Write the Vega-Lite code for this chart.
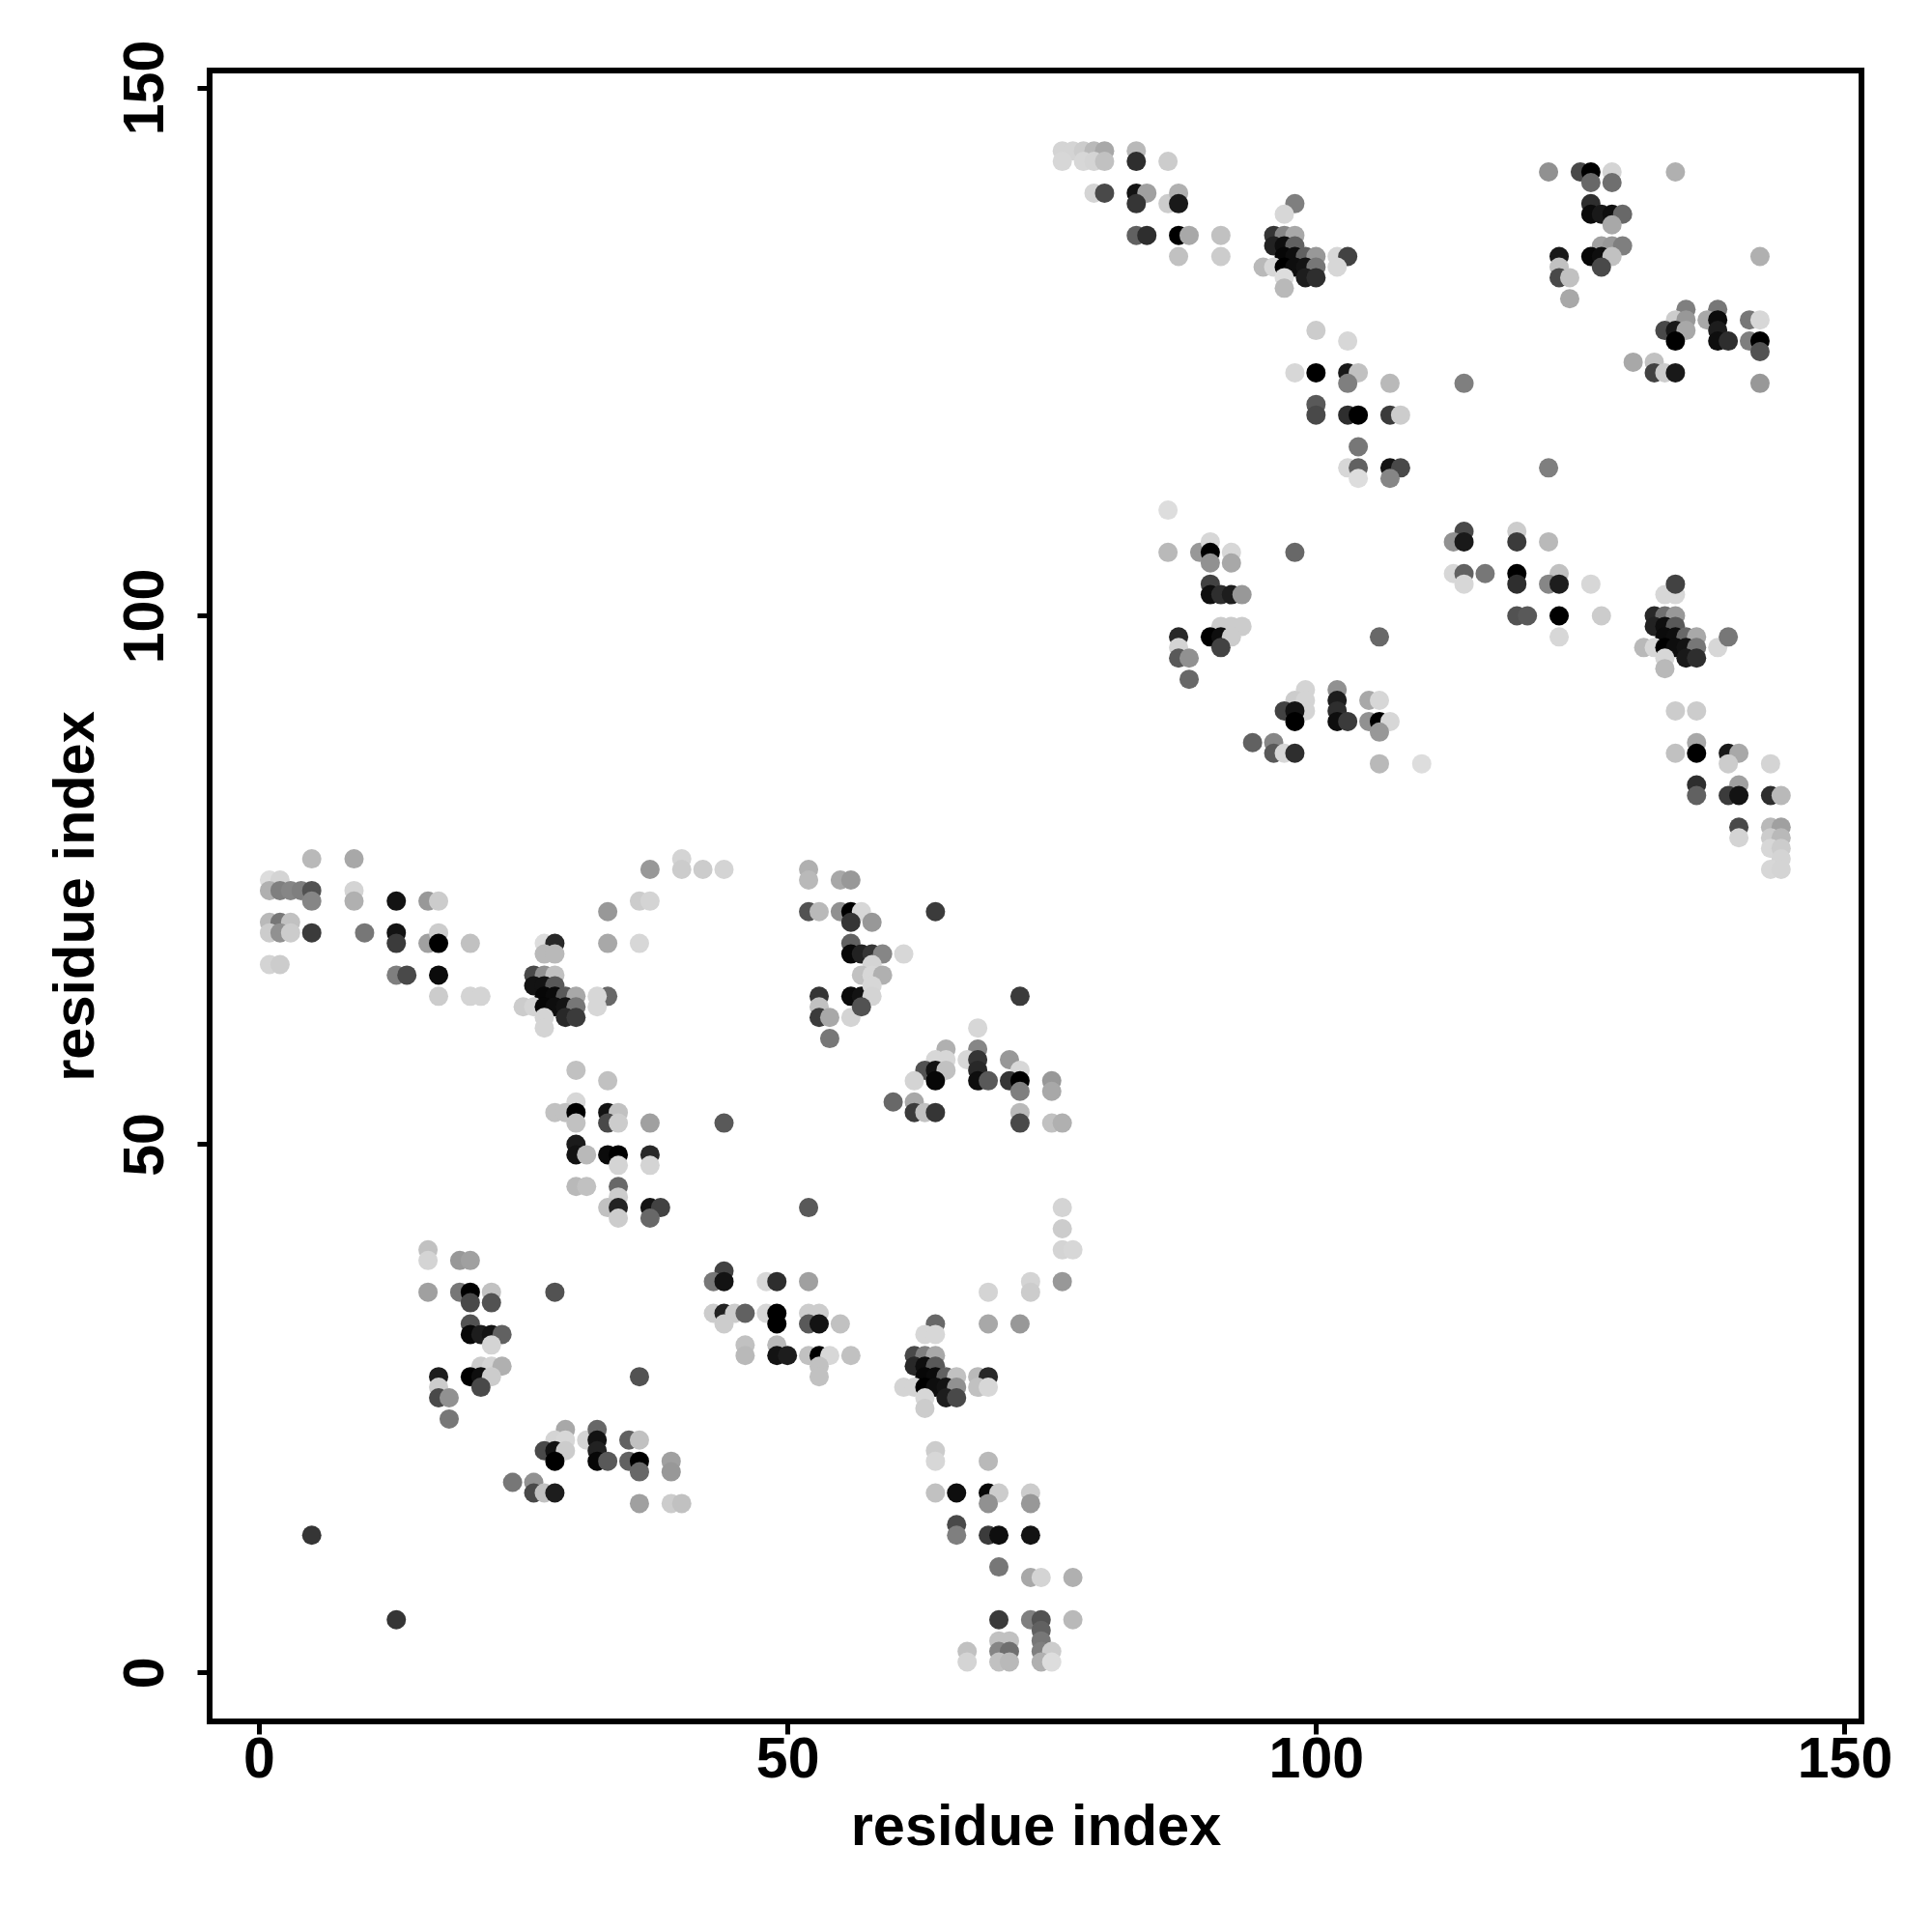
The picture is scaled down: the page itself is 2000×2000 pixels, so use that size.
{"$schema":"https://vega.github.io/schema/vega-lite/v6.json","width":1710,"height":1709,"padding":{"left":217,"top":73,"right":73,"bottom":218},"autosize":{"type":"none"},"background":"white","config":{"view":{"stroke":"black","strokeWidth":6,"fill":"white"}},
"data":{"values":[
{"i":5,"j":77,"s":25},{"i":9,"j":77,"s":31},{"i":37,"j":76,"s":37},{"i":1,"j":75,"s":12},{"i":2,"j":75,"s":15},{"i":1,"j":74,"s":28},{"i":2,"j":74,"s":47},{"i":3,"j":74,"s":44},{"i":4,"j":74,"s":47},{"i":5,"j":74,"s":65},{"i":5,"j":73,"s":44},{"i":9,"j":74,"s":15},{"i":9,"j":73,"s":28},{"i":13,"j":73,"s":94},{"i":16,"j":73,"s":37},{"i":17,"j":73,"s":18},{"i":36,"j":73,"s":18},{"i":37,"j":73,"s":15},{"i":33,"j":72,"s":37},{"i":1,"j":71,"s":25},{"i":2,"j":71,"s":50},{"i":3,"j":71,"s":22},{"i":1,"j":70,"s":18},{"i":2,"j":70,"s":40},{"i":3,"j":70,"s":18},{"i":5,"j":70,"s":75},{"i":10,"j":70,"s":50},{"i":13,"j":70,"s":94},{"i":13,"j":69,"s":75},{"i":16,"j":69,"s":34},{"i":17,"j":70,"s":18},{"i":17,"j":69,"s":100},{"i":20,"j":69,"s":22},{"i":27,"j":69,"s":12},{"i":28,"j":69,"s":84},{"i":33,"j":69,"s":31},{"i":36,"j":69,"s":14},{"i":27,"j":68,"s":25},{"i":28,"j":68,"s":25},{"i":1,"j":67,"s":15},{"i":2,"j":67,"s":18},{"i":13,"j":66,"s":47},{"i":14,"j":66,"s":69},{"i":17,"j":66,"s":97},{"i":26,"j":66,"s":69},{"i":27,"j":66,"s":40},{"i":28,"j":66,"s":22},{"i":17,"j":64,"s":18},{"i":20,"j":64,"s":15},{"i":21,"j":64,"s":15},{"i":33,"j":64,"s":56},{"i":32,"j":64,"s":14},{"i":32,"j":63,"s":14},{"i":26,"j":65,"s":94},{"i":27,"j":65,"s":94},{"i":28,"j":65,"s":62},{"i":27,"j":64,"s":98},{"i":28,"j":64,"s":97},{"i":29,"j":64,"s":62},{"i":30,"j":64,"s":31},{"i":25,"j":63,"s":18},{"i":26,"j":63,"s":15},{"i":27,"j":63,"s":98},{"i":28,"j":63,"s":96},{"i":29,"j":63,"s":94},{"i":30,"j":63,"s":50},{"i":29,"j":62,"s":84},{"i":30,"j":62,"s":75},{"i":27,"j":62,"s":15},{"i":27,"j":61,"s":15},
{"i":30,"j":57,"s":22},{"i":33,"j":56,"s":22},{"i":30,"j":54,"s":14},{"i":28,"j":53,"s":22},{"i":29,"j":53,"s":22},{"i":30,"j":53,"s":100},{"i":33,"j":53,"s":94},{"i":34,"j":53,"s":22},{"i":30,"j":52,"s":22},{"i":33,"j":52,"s":69},{"i":34,"j":52,"s":18},{"i":37,"j":52,"s":34},{"i":30,"j":50,"s":90},{"i":30,"j":49,"s":94},{"i":31,"j":49,"s":25},{"i":33,"j":49,"s":97},{"i":34,"j":49,"s":100},{"i":37,"j":49,"s":84},{"i":34,"j":48,"s":15},{"i":37,"j":48,"s":15},{"i":30,"j":46,"s":25},{"i":31,"j":46,"s":22},{"i":34,"j":46,"s":56},{"i":34,"j":45,"s":18},{"i":33,"j":44,"s":22},{"i":34,"j":44,"s":87},{"i":37,"j":44,"s":94},{"i":38,"j":44,"s":72},{"i":34,"j":43,"s":18},{"i":37,"j":43,"s":56},
{"i":40,"j":77,"s":15},{"i":40,"j":76,"s":18},{"i":42,"j":76,"s":18},{"i":44,"j":76,"s":15},{"i":52,"j":76,"s":28},{"i":52,"j":75,"s":25},{"i":55,"j":75,"s":31},{"i":56,"j":75,"s":37},{"i":52,"j":72,"s":65},{"i":53,"j":72,"s":25},{"i":55,"j":72,"s":40},{"i":56,"j":72,"s":100},{"i":57,"j":72,"s":14},{"i":56,"j":71,"s":78},{"i":58,"j":71,"s":37},{"i":64,"j":72,"s":75},{"i":56,"j":69,"s":59},{"i":56,"j":68,"s":98},{"i":57,"j":68,"s":87},{"i":58,"j":68,"s":78},{"i":59,"j":68,"s":44},{"i":61,"j":68,"s":14},{"i":58,"j":67,"s":15},{"i":57,"j":66,"s":22},{"i":58,"j":66,"s":14},{"i":59,"j":66,"s":28},{"i":56,"j":64,"s":97},{"i":57,"j":64,"s":94},{"i":58,"j":65,"s":14},{"i":58,"j":64,"s":15},{"i":53,"j":64,"s":78},{"i":53,"j":63,"s":22},{"i":53,"j":62,"s":75},{"i":54,"j":62,"s":31},{"i":56,"j":62,"s":15},{"i":57,"j":63,"s":65},{"i":54,"j":60,"s":50},{"i":68,"j":61,"s":14},{"i":65,"j":59,"s":28},{"i":68,"j":59,"s":44},{"i":64,"j":58,"s":14},{"i":65,"j":58,"s":14},{"i":67,"j":58,"s":14},{"i":68,"j":58,"s":78},{"i":71,"j":58,"s":37},{"i":63,"j":57,"s":65},{"i":64,"j":57,"s":94},{"i":65,"j":57,"s":22},{"i":68,"j":57,"s":84},{"i":72,"j":57,"s":14},{"i":62,"j":56,"s":15},{"i":64,"j":56,"s":98},{"i":68,"j":56,"s":96},{"i":69,"j":56,"s":62},{"i":71,"j":56,"s":78},{"i":72,"j":56,"s":100},{"i":75,"j":56,"s":37},{"i":72,"j":55,"s":47},{"i":75,"j":55,"s":31},{"i":60,"j":54,"s":56},{"i":62,"j":54,"s":31},{"i":62,"j":53,"s":75},{"i":63,"j":53,"s":22},{"i":64,"j":53,"s":78},{"i":72,"j":53,"s":25},{"i":72,"j":52,"s":69},{"i":75,"j":52,"s":22},{"i":76,"j":52,"s":28},{"i":44,"j":52,"s":62},{"i":52,"j":44,"s":62},{"i":76,"j":44,"s":15},{"i":76,"j":42,"s":18},{"i":76,"j":40,"s":15},{"i":77,"j":40,"s":14},{"i":72,"j":64,"s":75},
{"i":16,"j":40,"s":22},{"i":16,"j":39,"s":15},{"i":19,"j":39,"s":37},{"i":20,"j":39,"s":34},{"i":16,"j":36,"s":34},{"i":19,"j":36,"s":50},{"i":20,"j":36,"s":100},{"i":22,"j":36,"s":22},{"i":28,"j":36,"s":65},{"i":20,"j":35,"s":69},{"i":22,"j":35,"s":65},{"i":20,"j":33,"s":65},{"i":20,"j":32,"s":98},{"i":21,"j":32,"s":89},{"i":22,"j":32,"s":94},{"i":23,"j":32,"s":59},{"i":22,"j":31,"s":15},{"i":21,"j":29,"s":18},{"i":22,"j":29,"s":15},{"i":23,"j":29,"s":28},{"i":17,"j":28,"s":89},{"i":20,"j":28,"s":100},{"i":21,"j":28,"s":96},{"i":22,"j":28,"s":18},{"i":36,"j":28,"s":65},{"i":17,"j":27,"s":18},{"i":21,"j":27,"s":69},{"i":17,"j":26,"s":69},{"i":18,"j":26,"s":40},{"i":18,"j":24,"s":50},{"i":29,"j":23,"s":31},{"i":28,"j":22,"s":15},{"i":29,"j":22,"s":14},{"i":27,"j":21,"s":69},{"i":28,"j":21,"s":94},{"i":29,"j":21,"s":18},{"i":28,"j":20,"s":100},{"i":31,"j":22,"s":15},{"i":32,"j":23,"s":56},{"i":32,"j":22,"s":94},{"i":32,"j":21,"s":87},{"i":32,"j":20,"s":98},{"i":33,"j":20,"s":62},{"i":35,"j":22,"s":59},{"i":36,"j":22,"s":22},{"i":35,"j":20,"s":59},{"i":36,"j":20,"s":100},{"i":36,"j":19,"s":56},{"i":39,"j":20,"s":34},{"i":39,"j":19,"s":37},{"i":24,"j":18,"s":50},{"i":26,"j":18,"s":40},{"i":26,"j":17,"s":69},{"i":27,"j":17,"s":22},{"i":28,"j":17,"s":89},{"i":36,"j":16,"s":34},{"i":39,"j":16,"s":18},{"i":40,"j":16,"s":22},{"i":5,"j":13,"s":78},{"i":13,"j":5,"s":78},
{"i":44,"j":38,"s":72},{"i":43,"j":37,"s":50},{"i":44,"j":37,"s":94},{"i":48,"j":37,"s":14},{"i":49,"j":37,"s":81},{"i":52,"j":37,"s":34},{"i":76,"j":37,"s":37},{"i":73,"j":37,"s":15},{"i":73,"j":36,"s":18},{"i":69,"j":36,"s":15},{"i":43,"j":34,"s":18},{"i":44,"j":34,"s":87},{"i":45,"j":34,"s":18},{"i":46,"j":34,"s":59},{"i":48,"j":34,"s":14},{"i":49,"j":34,"s":100},{"i":52,"j":34,"s":18},{"i":53,"j":34,"s":18},{"i":44,"j":33,"s":18},{"i":49,"j":33,"s":100},{"i":52,"j":33,"s":62},{"i":53,"j":33,"s":94},{"i":55,"j":33,"s":22},{"i":64,"j":33,"s":56},{"i":69,"j":33,"s":31},{"i":72,"j":33,"s":37},{"i":63,"j":32,"s":14},{"i":64,"j":32,"s":14},{"i":46,"j":31,"s":22},{"i":49,"j":31,"s":25},{"i":46,"j":30,"s":25},{"i":49,"j":30,"s":94},{"i":50,"j":30,"s":89},{"i":52,"j":30,"s":22},{"i":53,"j":30,"s":100},{"i":54,"j":30,"s":14},{"i":56,"j":30,"s":22},{"i":53,"j":29,"s":22},{"i":53,"j":28,"s":22},{"i":62,"j":30,"s":69},{"i":63,"j":30,"s":47},{"i":64,"j":30,"s":31},{"i":62,"j":29,"s":84},{"i":63,"j":29,"s":96},{"i":64,"j":29,"s":62},{"i":63,"j":28,"s":98},{"i":64,"j":28,"s":97},{"i":65,"j":28,"s":59},{"i":66,"j":28,"s":22},{"i":61,"j":27,"s":15},{"i":62,"j":27,"s":15},{"i":63,"j":27,"s":100},{"i":64,"j":27,"s":96},{"i":65,"j":27,"s":94},{"i":66,"j":27,"s":40},{"i":65,"j":26,"s":89},{"i":66,"j":26,"s":69},{"i":63,"j":26,"s":14},{"i":63,"j":25,"s":18},{"i":68,"j":28,"s":25},{"i":69,"j":28,"s":84},{"i":68,"j":27,"s":22},{"i":69,"j":27,"s":14},{"i":64,"j":21,"s":18},{"i":64,"j":20,"s":14},{"i":69,"j":20,"s":25},{"i":64,"j":17,"s":22},{"i":66,"j":17,"s":96},{"i":69,"j":17,"s":98},{"i":70,"j":17,"s":18},{"i":73,"j":17,"s":18},{"i":69,"j":16,"s":40},{"i":73,"j":16,"s":37},{"i":66,"j":14,"s":69},{"i":66,"j":13,"s":47},{"i":69,"j":13,"s":75},{"i":70,"j":13,"s":96},{"i":73,"j":13,"s":94},{"i":70,"j":10,"s":50},{"i":73,"j":9,"s":31},{"i":74,"j":9,"s":15},{"i":77,"j":9,"s":28},{"i":70,"j":5,"s":75},{"i":73,"j":5,"s":47},{"i":74,"j":5,"s":65},{"i":77,"j":5,"s":25},{"i":74,"j":4,"s":59},{"i":70,"j":3,"s":22},{"i":71,"j":3,"s":22},{"i":74,"j":3,"s":50},{"i":67,"j":2,"s":22},{"i":70,"j":2,"s":44},{"i":71,"j":2,"s":53},{"i":74,"j":2,"s":47},{"i":75,"j":2,"s":18},{"i":67,"j":1,"s":15},{"i":70,"j":1,"s":22},{"i":71,"j":1,"s":25},{"i":74,"j":1,"s":28},{"i":75,"j":1,"s":12},
{"i":76,"j":144,"s":15},{"i":77,"j":144,"s":15},{"i":78,"j":144,"s":18},{"i":79,"j":144,"s":25},{"i":80,"j":144,"s":31},{"i":76,"j":143,"s":14},{"i":78,"j":143,"s":14},{"i":79,"j":143,"s":15},{"i":80,"j":143,"s":22},{"i":83,"j":144,"s":25},{"i":83,"j":143,"s":81},{"i":86,"j":143,"s":18},{"i":79,"j":140,"s":15},{"i":80,"j":140,"s":69},{"i":83,"j":140,"s":94},{"i":84,"j":140,"s":34},{"i":83,"j":139,"s":78},{"i":86,"j":139,"s":18},{"i":87,"j":140,"s":28},{"i":87,"j":139,"s":91},{"i":83,"j":136,"s":59},{"i":84,"j":136,"s":81},{"i":87,"j":136,"s":100},{"i":88,"j":136,"s":31},{"i":91,"j":136,"s":22},{"i":87,"j":134,"s":22},{"i":91,"j":134,"s":18},{"i":98,"j":139,"s":47},{"i":97,"j":138,"s":14},{"i":96,"j":136,"s":78},{"i":97,"j":136,"s":44},{"i":98,"j":136,"s":31},{"i":96,"j":135,"s":87},{"i":97,"j":135,"s":96},{"i":98,"j":135,"s":59},{"i":97,"j":134,"s":98},{"i":98,"j":134,"s":96},{"i":99,"j":134,"s":59},{"i":100,"j":134,"s":37},{"i":95,"j":133,"s":25},{"i":96,"j":133,"s":14},{"i":97,"j":133,"s":100},{"i":98,"j":133,"s":96},{"i":99,"j":133,"s":94},{"i":100,"j":133,"s":50},{"i":99,"j":132,"s":89},{"i":100,"j":132,"s":81},{"i":97,"j":132,"s":12},{"i":97,"j":131,"s":25},{"i":102,"j":134,"s":14},{"i":103,"j":134,"s":72},{"i":102,"j":133,"s":14},{"i":100,"j":127,"s":18},{"i":103,"j":126,"s":14},{"i":98,"j":123,"s":14},{"i":100,"j":123,"s":100},{"i":103,"j":123,"s":91},{"i":104,"j":123,"s":22},{"i":103,"j":122,"s":47},{"i":107,"j":122,"s":25},{"i":100,"j":120,"s":62},{"i":100,"j":119,"s":69},{"i":103,"j":119,"s":81},{"i":104,"j":119,"s":100},{"i":107,"j":119,"s":75},{"i":108,"j":119,"s":18},{"i":104,"j":116,"s":50},{"i":103,"j":114,"s":14},{"i":104,"j":114,"s":59},{"i":107,"j":114,"s":94},{"i":108,"j":114,"s":69},{"i":104,"j":113,"s":12},{"i":107,"j":113,"s":44},{"i":86,"j":110,"s":12},
{"i":122,"j":142,"s":40},{"i":125,"j":142,"s":69},{"i":126,"j":142,"s":100},{"i":128,"j":142,"s":15},{"i":134,"j":142,"s":28},{"i":126,"j":141,"s":56},{"i":128,"j":141,"s":53},{"i":126,"j":139,"s":81},{"i":126,"j":138,"s":97},{"i":127,"j":138,"s":91},{"i":128,"j":138,"s":96},{"i":129,"j":138,"s":56},{"i":128,"j":137,"s":31},{"i":127,"j":135,"s":34},{"i":128,"j":135,"s":37},{"i":129,"j":135,"s":47},{"i":123,"j":134,"s":91},{"i":126,"j":134,"s":98},{"i":127,"j":134,"s":96},{"i":128,"j":134,"s":22},{"i":123,"j":133,"s":22},{"i":127,"j":133,"s":69},{"i":123,"j":132,"s":69},{"i":124,"j":132,"s":22},{"i":124,"j":130,"s":31},{"i":142,"j":134,"s":28},{"i":135,"j":129,"s":47},{"i":138,"j":129,"s":50},{"i":134,"j":128,"s":18},{"i":135,"j":128,"s":37},{"i":137,"j":128,"s":31},{"i":138,"j":128,"s":97},{"i":141,"j":128,"s":50},{"i":142,"j":128,"s":14},{"i":133,"j":127,"s":69},{"i":134,"j":127,"s":91},{"i":135,"j":127,"s":31},{"i":138,"j":127,"s":89},{"i":134,"j":126,"s":100},{"i":138,"j":126,"s":96},{"i":139,"j":126,"s":81},{"i":141,"j":126,"s":47},{"i":142,"j":126,"s":100},{"i":142,"j":125,"s":65},{"i":130,"j":124,"s":31},{"i":132,"j":124,"s":22},{"i":132,"j":123,"s":72},{"i":133,"j":123,"s":18},{"i":134,"j":123,"s":91},{"i":114,"j":122,"s":47},{"i":142,"j":122,"s":37},{"i":122,"j":114,"s":47},
{"i":86,"j":106,"s":25},{"i":89,"j":106,"s":37},{"i":90,"j":107,"s":14},{"i":90,"j":106,"s":100},{"i":90,"j":105,"s":40},{"i":92,"j":106,"s":14},{"i":92,"j":105,"s":31},{"i":98,"j":106,"s":56},{"i":90,"j":103,"s":72},{"i":90,"j":102,"s":96},{"i":91,"j":102,"s":81},{"i":92,"j":102,"s":89},{"i":93,"j":102,"s":37},{"i":91,"j":99,"s":18},{"i":92,"j":99,"s":18},{"i":93,"j":99,"s":18},{"i":87,"j":98,"s":84},{"i":90,"j":98,"s":100},{"i":91,"j":98,"s":96},{"i":92,"j":98,"s":18},{"i":87,"j":97,"s":15},{"i":91,"j":97,"s":72},{"i":87,"j":96,"s":62},{"i":88,"j":96,"s":40},{"i":88,"j":94,"s":56},{"i":106,"j":98,"s":56},{"i":99,"j":93,"s":15},{"i":98,"j":92,"s":18},{"i":99,"j":92,"s":15},{"i":102,"j":93,"s":40},{"i":102,"j":92,"s":89},{"i":105,"j":92,"s":31},{"i":106,"j":92,"s":14},{"i":99,"j":91,"s":15},{"i":97,"j":91,"s":72},{"i":98,"j":91,"s":94},{"i":102,"j":91,"s":81},{"i":98,"j":90,"s":100},{"i":102,"j":90,"s":96},{"i":103,"j":90,"s":75},{"i":105,"j":90,"s":40},{"i":106,"j":90,"s":100},{"i":107,"j":90,"s":14},{"i":106,"j":89,"s":37},{"i":94,"j":88,"s":59},{"i":96,"j":88,"s":44},{"i":96,"j":87,"s":62},{"i":97,"j":87,"s":14},{"i":98,"j":87,"s":81},{"i":106,"j":86,"s":25},{"i":110,"j":86,"s":12},
{"i":114,"j":108,"s":69},{"i":113,"j":107,"s":40},{"i":114,"j":107,"s":91},{"i":119,"j":108,"s":18},{"i":119,"j":107,"s":75},{"i":122,"j":107,"s":25},{"i":113,"j":104,"s":14},{"i":114,"j":104,"s":59},{"i":116,"j":104,"s":50},{"i":119,"j":104,"s":100},{"i":123,"j":104,"s":22},{"i":114,"j":103,"s":14},{"i":119,"j":103,"s":81},{"i":122,"j":103,"s":44},{"i":123,"j":103,"s":89},{"i":126,"j":103,"s":14},{"i":133,"j":102,"s":14},{"i":134,"j":102,"s":14},{"i":134,"j":103,"s":72},{"i":119,"j":100,"s":65},{"i":120,"j":100,"s":62},{"i":123,"j":100,"s":100},{"i":127,"j":100,"s":18},{"i":123,"j":98,"s":14},{"i":132,"j":100,"s":84},{"i":133,"j":100,"s":53},{"i":134,"j":100,"s":37},{"i":132,"j":99,"s":87},{"i":133,"j":99,"s":96},{"i":134,"j":99,"s":62},{"i":133,"j":98,"s":97},{"i":134,"j":98,"s":96},{"i":135,"j":98,"s":56},{"i":136,"j":98,"s":31},{"i":131,"j":97,"s":25},{"i":132,"j":97,"s":14},{"i":133,"j":97,"s":100},{"i":134,"j":97,"s":96},{"i":135,"j":97,"s":94},{"i":136,"j":97,"s":50},{"i":135,"j":96,"s":91},{"i":136,"j":96,"s":81},{"i":133,"j":96,"s":14},{"i":133,"j":95,"s":25},{"i":138,"j":97,"s":14},{"i":139,"j":98,"s":50},{"i":134,"j":91,"s":18},{"i":136,"j":91,"s":18},{"i":136,"j":88,"s":31},{"i":134,"j":87,"s":22},{"i":136,"j":87,"s":100},{"i":139,"j":87,"s":91},{"i":140,"j":87,"s":31},{"i":139,"j":86,"s":18},{"i":143,"j":86,"s":15},{"i":136,"j":84,"s":81},{"i":136,"j":83,"s":59},{"i":140,"j":84,"s":34},{"i":139,"j":83,"s":75},{"i":140,"j":83,"s":94},{"i":143,"j":83,"s":81},{"i":144,"j":83,"s":25},{"i":140,"j":80,"s":69},{"i":143,"j":80,"s":25},{"i":144,"j":80,"s":34},{"i":140,"j":79,"s":15},{"i":143,"j":79,"s":18},{"i":144,"j":79,"s":25},{"i":143,"j":78,"s":14},{"i":144,"j":78,"s":18},{"i":144,"j":77,"s":15},{"i":143,"j":76,"s":14},{"i":144,"j":76,"s":15}
]},
"mark":{"type":"point","shape":"circle","filled":true,"opacity":1,"size":400},
"encoding":{
"x":{"field":"i","type":"quantitative","scale":{"domain":[-4.66,151.6],"nice":false,"zero":false},"axis":{"values":[0,50,100,150],"title":"residue index","grid":false,"domain":false,"ticks":true,"tickColor":"black","tickWidth":5,"tickSize":13,"labelFont":"Liberation Sans","labelFontWeight":"bold","labelFontSize":59,"labelColor":"black","labelPadding":-3,"labelFlush":false,"labelOverlap":false,"titleFont":"Liberation Sans","titleFontWeight":"bold","titleFontSize":59.5,"titleColor":"black","titlePadding":11}},
"y":{"field":"j","type":"quantitative","scale":{"domain":[-4.62,151.6],"nice":false,"zero":false},"axis":{"values":[0,50,100,150],"title":"residue index","grid":false,"domain":false,"ticks":true,"tickColor":"black","tickWidth":5,"tickSize":13,"labelFont":"Liberation Sans","labelFontWeight":"bold","labelFontSize":59,"labelColor":"black","labelAngle":-90,"labelAlign":"center","labelBaseline":"bottom","labelPadding":24,"labelFlush":false,"labelOverlap":false,"titleFont":"Liberation Sans","titleFontWeight":"bold","titleFontSize":59.5,"titleColor":"black","titlePadding":13}},
"color":{"field":"s","type":"quantitative","scale":{"domain":[0,100],"range":["#ffffff","#000000"]},"legend":null},
"order":[{"field":"i","type":"quantitative"},{"field":"j","type":"quantitative"}]
}}
